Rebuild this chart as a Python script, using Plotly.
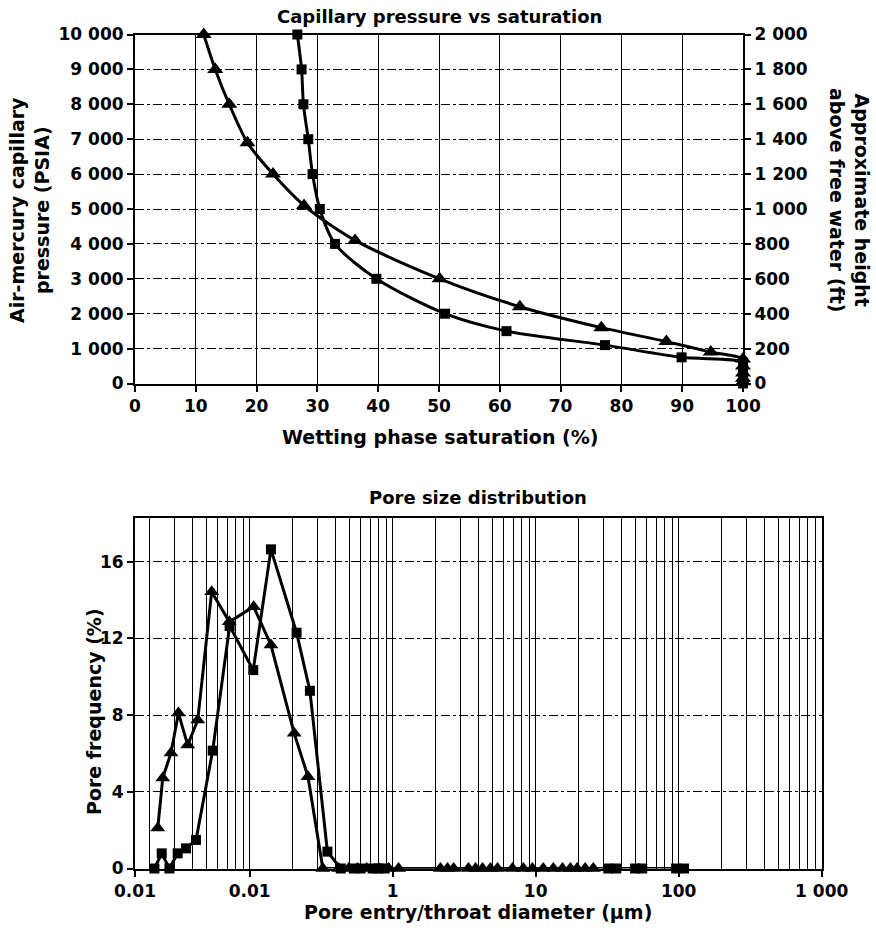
import math
import plotly.graph_objects as go

# ---------------- data: capillary pressure vs saturation ----------------
tri_saturation = [11.3, 13.2, 15.5, 18.5, 22.7, 27.8, 36.2, 50.1, 63.3, 76.7, 87.4, 94.7, 100, 100, 100, 100, 100]
tri_pressure = [10000, 9000, 8000, 6900, 6000, 5100, 4100, 3000, 2200, 1600, 1200, 900, 700, 500, 300, 150, 50]
sq_saturation = [26.7, 27.4, 27.7, 28.5, 29.2, 30.4, 32.9, 39.7, 51.0, 61.1, 77.3, 89.9, 100, 100, 100, 100, 100]
sq_pressure = [10000, 9000, 8000, 7000, 6000, 5000, 4000, 3000, 2000, 1500, 1100, 750, 600, 400, 250, 100, 0]

sat_ticks = [0, 10, 20, 30, 40, 50, 60, 70, 80, 90, 100]
sat_tick_text = ["0", "10", "20", "30", "40", "50", "60", "70", "80", "90", "100"]
pressure_ticks = [0, 1000, 2000, 3000, 4000, 5000, 6000, 7000, 8000, 9000, 10000]
pressure_tick_text = ["0", "1 000", "2 000", "3 000", "4 000", "5 000", "6 000", "7 000", "8 000", "9 000", "10 000"]
height_ticks = [0, 200, 400, 600, 800, 1000, 1200, 1400, 1600, 1800, 2000]
height_tick_text = ["0", "200", "400", "600", "800", "1 000", "1 200", "1 400", "1 600", "1 800", "2 000"]

# ---------------- data: pore size distribution ----------------
tri_diameter = [0.0228, 0.0247, 0.0282, 0.0318, 0.0369, 0.0434, 0.0543, 0.0721, 0.1067, 0.141, 0.205, 0.256,
                0.325, 0.420, 0.493, 0.570, 0.659, 0.80, 0.938, 1.10, 2.16, 2.42, 2.67, 3.39, 3.80, 4.25,
                4.83, 5.41, 6.88, 8.20, 9.48, 11.3, 13.3, 15.4, 17.5, 19.5, 22.2, 25.3]
tri_frequency = [2.11, 4.72, 6.03, 8.11, 6.44, 7.75, 14.44, 12.87, 13.66, 11.66, 7.05, 4.79,
                 0, 0, 0, 0, 0, 0, 0, 0, 0, 0, 0, 0, 0, 0,
                 0, 0, 0, 0, 0, 0, 0, 0, 0, 0, 0, 0]
sq_diameter = [0.0216, 0.0243, 0.0275, 0.0314, 0.0359, 0.0422, 0.0552, 0.0725, 0.106, 0.141, 0.213, 0.264,
               0.350, 0.434, 0.535, 0.598, 0.725, 0.798, 0.880, 32.2, 36.6, 49.6, 55.6, 96.0, 109]
sq_frequency = [0, 0.79, 0, 0.79, 1.05, 1.49, 6.15, 12.65, 10.35, 16.65, 12.30, 9.27,
                0.88, 0, 0, 0, 0, 0, 0, 0, 0, 0, 0, 0, 0]

freq_ticks = [0, 4, 8, 12, 16]
freq_tick_text = ["0", "4", "8", "12", "16"]
diam_left_edge = 0.0158
diam_ticks = [diam_left_edge, 0.1, 1, 10, 100, 1000]
diam_tick_text = ["0.01", "0.01", "1", "10", "100", "1 000"]
diam_grid = [k * 10 ** n for n in range(-2, 3) for k in range(1, 10) if k * 10 ** n > diam_left_edge] + [1000]

# ---------------- layout helpers ----------------
W, H = 876, 928
FONT = "DejaVu Sans"


def fx(p):
    return p / W


def fy(p):
    return 1 - p / H


fig = go.Figure()

line_style = dict(color="black", width=3)

fig.add_trace(go.Scatter(x=tri_saturation, y=tri_pressure, mode="lines+markers",
                         line=dict(color="black", width=3, shape="spline", smoothing=0.8),
                         marker=dict(symbol="triangle-up", size=14, color="black"),
                         xaxis="x", yaxis="y", showlegend=False, hoverinfo="skip", cliponaxis=False))
fig.add_trace(go.Scatter(x=sq_saturation, y=sq_pressure, mode="lines+markers",
                         line=dict(color="black", width=3, shape="spline", smoothing=0.8),
                         marker=dict(symbol="square", size=10, color="black"),
                         xaxis="x", yaxis="y", showlegend=False, hoverinfo="skip", cliponaxis=False))
# invisible anchor for the right-hand height axis
fig.add_trace(go.Scatter(x=[sat_ticks[0], sat_ticks[-1]], y=[height_ticks[0], height_ticks[-1]],
                         mode="markers", marker=dict(opacity=0), xaxis="x", yaxis="y2",
                         showlegend=False, hoverinfo="skip"))

fig.add_trace(go.Scatter(x=sq_diameter, y=sq_frequency, mode="lines+markers",
                         line=line_style,
                         marker=dict(symbol="square", size=10, color="black"),
                         xaxis="x3", yaxis="y3", showlegend=False, hoverinfo="skip", cliponaxis=False))
fig.add_trace(go.Scatter(x=tri_diameter, y=tri_frequency, mode="lines+markers",
                         line=line_style,
                         marker=dict(symbol="triangle-up", size=13, color="black"),
                         xaxis="x3", yaxis="y3", showlegend=False, hoverinfo="skip", cliponaxis=False))

tickfont = dict(family=FONT, size=17, color="black", weight="bold")
common = dict(showline=True, linecolor="black", linewidth=2, ticks="outside", ticklen=6,
              tickwidth=1.5, tickcolor="black", tickfont=tickfont, zeroline=False, automargin=False)

fig.update_layout(
    width=W, height=H,
    margin=dict(l=0, r=0, t=0, b=0),
    paper_bgcolor="white", plot_bgcolor="white",
    showlegend=False,
    font=dict(family=FONT, size=16, color="black", weight="bold"),
    xaxis=dict(domain=[fx(135), fx(743)], anchor="y", range=[0, 100], tickmode="array",
               tickvals=sat_ticks, ticktext=sat_tick_text, showgrid=True, gridcolor="black",
               gridwidth=1.2, mirror=True, **common),
    yaxis=dict(domain=[fy(383.5), fy(34.5)], anchor="x", range=[0, 10000], tickmode="array",
               tickvals=pressure_ticks, ticktext=pressure_tick_text, showgrid=True, gridcolor="black",
               gridwidth=1.2, griddash="dashdot", mirror=True, **common),
    yaxis2=dict(overlaying="y", side="right", anchor="x", range=[0, 2000], tickmode="array",
                tickvals=height_ticks, ticktext=height_tick_text, showgrid=False, **common),
    xaxis3=dict(domain=[fx(135), fx(821.7)], anchor="y3", type="log",
                range=[math.log10(diam_left_edge), 3], tickmode="array",
                tickvals=diam_ticks, ticktext=diam_tick_text, showgrid=True, gridcolor="black",
                gridwidth=1.2, mirror=True,
                minor=dict(tickvals=diam_grid, showgrid=True, gridcolor="black", gridwidth=1.2, ticks=""),
                **common),
    yaxis3=dict(domain=[fy(868.5), fy(518.3)], anchor="x3", range=[0, 18.27], tickmode="array",
                tickvals=freq_ticks, ticktext=freq_tick_text, showgrid=True, gridcolor="black",
                gridwidth=1.2, griddash="dashdot", mirror=True, **common),
)

chart_title_font = dict(family=FONT, size=18, color="black", weight="bold")
axis_title_font = dict(family=FONT, size=19, color="black", weight="bold")
annotations = [
    (dict(text="Capillary pressure vs saturation", x=fx(439), y=fy(17)), chart_title_font),
    (dict(text="Wetting phase saturation (%)", x=fx(440), y=fy(437)), axis_title_font),
    (dict(text="Air-mercury capillary<br>pressure (PSIA)", x=fx(30), y=fy(210), textangle=-90), axis_title_font),
    (dict(text="Approximate height<br>above free water (ft)", x=fx(849), y=fy(200), textangle=90), axis_title_font),
    (dict(text="Pore size distribution", x=fx(478), y=fy(497)), chart_title_font),
    (dict(text="Pore frequency (%)", x=fx(94), y=fy(712), textangle=-90), axis_title_font),
    (dict(text="Pore entry/throat diameter (µm)", x=fx(478), y=fy(912)), axis_title_font),
]
for a, f in annotations:
    fig.add_annotation(xref="paper", yref="paper", showarrow=False, font=f,
                       xanchor="center", yanchor="middle", **a)

fig.write_html("out.html", config={"displayModeBar": False},
               post_script="document.body.style.margin='0px';")
